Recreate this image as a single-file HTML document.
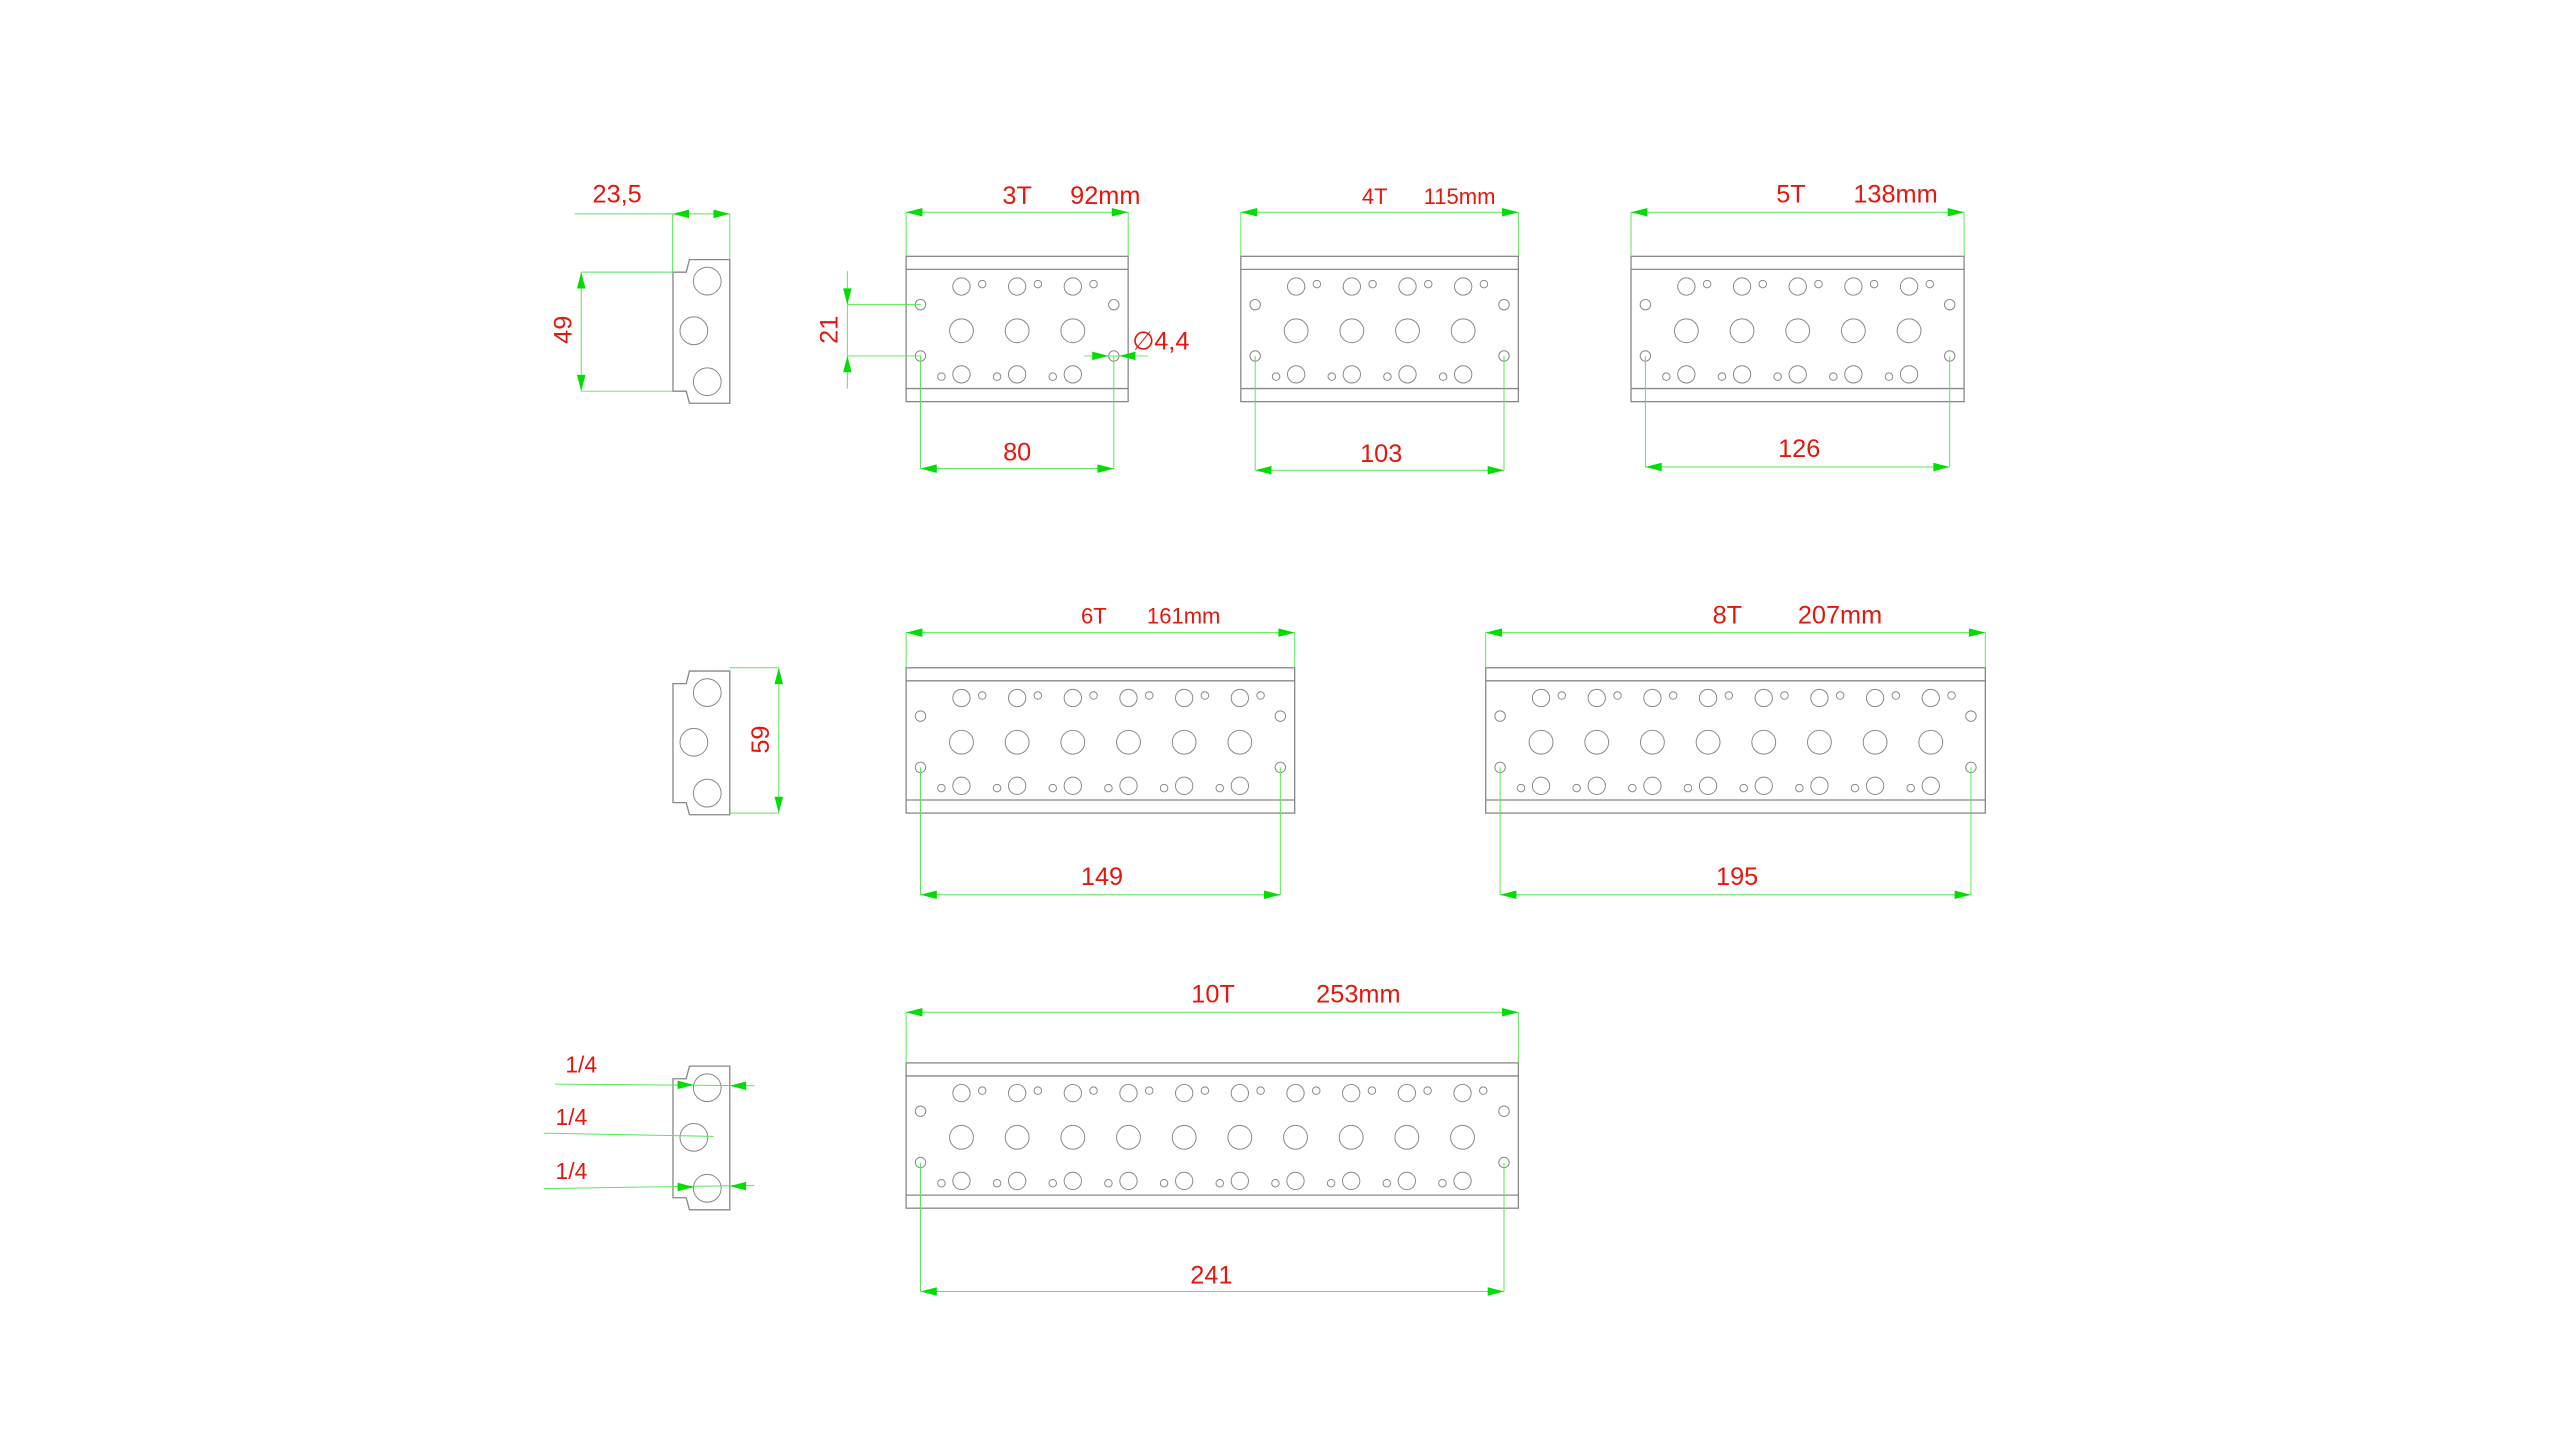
<!DOCTYPE html>
<html><head><meta charset="utf-8"><style>
html,body{margin:0;padding:0;background:#fff;}
svg{display:block;}
text{font-family:"Liberation Sans",Arial,sans-serif;fill:#e3170d;}
</style></head><body>
<svg id="s" xmlns="http://www.w3.org/2000/svg" width="2560" height="1442" viewBox="0 0 1568 883.2" preserveAspectRatio="none">
<rect width="1568" height="883.2" fill="#fff"/>
<g id="g"></g>
<!-- labels -->
<g font-size="15.5">
<text x="378" y="124" text-anchor="middle">23,5</text>
<text x="623" y="125" text-anchor="middle">3T</text>
<text x="677" y="125" text-anchor="middle">92mm</text>
<text x="842" y="125" text-anchor="middle" font-size="13.5">4T</text>
<text x="894" y="125" text-anchor="middle" font-size="13.5">115mm</text>
<text x="1097" y="124" text-anchor="middle">5T</text>
<text x="1161" y="124" text-anchor="middle">138mm</text>
<text x="711" y="214" text-anchor="middle">∅4,4</text>
<text x="623" y="282" text-anchor="middle">80</text>
<text x="846" y="283" text-anchor="middle">103</text>
<text x="1102" y="280" text-anchor="middle">126</text>
<text x="670" y="382" text-anchor="middle" font-size="13.5">6T</text>
<text x="725" y="382" text-anchor="middle" font-size="13.5">161mm</text>
<text x="1058" y="382" text-anchor="middle">8T</text>
<text x="1127" y="382" text-anchor="middle">207mm</text>
<text x="675" y="542" text-anchor="middle">149</text>
<text x="1064" y="542" text-anchor="middle">195</text>
<text x="743" y="614" text-anchor="middle">10T</text>
<text x="832" y="614" text-anchor="middle">253mm</text>
<text x="742" y="786" text-anchor="middle">241</text>
<text x="356" y="657" text-anchor="middle" font-size="14">1/4</text>
<text x="350" y="689" text-anchor="middle" font-size="14">1/4</text>
<text x="350" y="722" text-anchor="middle" font-size="14">1/4</text>
<text transform="translate(350,202) rotate(-90)" text-anchor="middle">49</text>
<text transform="translate(513,202) rotate(-90)" text-anchor="middle">21</text>
<text transform="translate(471,453) rotate(-90)" text-anchor="middle">59</text>
</g>
</svg>
<script>
var g=document.getElementById('g'),NS='http://www.w3.org/2000/svg';
function el(t,a){var e=document.createElementNS(NS,t);for(var k in a)e.setAttribute(k,a[k]);g.appendChild(e);return e;}
var GR='#888',GN='#55e855',GA='#00dd00';
function ln(x1,y1,x2,y2,c,w){el('line',{x1:x1,y1:y1,x2:x2,y2:y2,stroke:c||GN,'stroke-width':w||0.6});}
function ci(x,y,r){el('circle',{cx:x,cy:y,r:r,fill:'none',stroke:GR,'stroke-width':0.6});}
// arrow tip at (x,y), pointing direction dx,dy
function ar(x,y,dx,dy){var L=10,H=2.6;var bx=x-dx*L,by=y-dy*L;var px=-dy*H,py=dx*H;
el('polygon',{points:x+','+y+' '+(bx+px)+','+(by+py)+' '+(bx-px)+','+(by-py),fill:GA});}
function hdim(x1,x2,y){ln(x1,y,x2,y);ar(x1,y,-1,0);ar(x2,y,1,0);}
function plate(x0,y0,W,n){
 el('rect',{x:x0,y:y0,width:W,height:89,fill:'none',stroke:GR,'stroke-width':0.8});
 ln(x0,y0+8,x0+W,y0+8,GR,0.8);ln(x0,y0+81,x0+W,y0+81,GR,0.8);
 ci(x0+8.8,y0+29.6,3.2);ci(x0+8.8,y0+61,3.2);ci(x0+W-8.8,y0+29.6,3.2);ci(x0+W-8.8,y0+61,3.2);
 for(var i=0;i<n;i++){var cx=x0+33.9+34.1*i;
  ci(cx,y0+18.5,5.3);ci(cx+12.7,y0+17,2.3);
  ci(cx,y0+45.6,7.3);
  ci(cx,y0+72.3,5.3);ci(cx-12.3,y0+73.7,2.3);}
 // top dimension
 var ty=y0-(y0==157?27:(y0==409?21.5:31));
 ln(x0,ty,x0,y0);ln(x0+W,ty,x0+W,y0);hdim(x0,x0+W,ty);
}
function side(y0){
 var p=[[422.3,y0+2],[447,y0+2],[447,y0+90],[422.3,y0+90],[420.3,y0+82.6],[412.2,y0+82.6],[412.2,y0+9.7],[420.3,y0+9.7]];
 el('polygon',{points:p.map(function(a){return a.join(',')}).join(' '),fill:'none',stroke:GR,'stroke-width':0.8});
 ci(433.2,y0+15.2,8.5);ci(425,y0+45.6,8.5);ci(433.2,y0+76.8,8.5);
}
plate(555,157,136,3);plate(760,157,170,4);plate(999,157,204,5);
plate(555,409,238,6);plate(910,409,306,8);plate(555,651,375,10);
// bottom dims
function bd(x1,x2,yh,y){ln(x1,yh,x1,y);ln(x2,yh,x2,y);hdim(x1,x2,y);}
bd(563.8,682.2,218,287);bd(768.8,921.2,218,288);bd(1007.8,1194.2,218,286);
bd(563.8,784.2,470,548);bd(918.8,1207.2,470,548);bd(563.8,921.2,712,791);
// side views
side(157);side(409);side(651);
// 23,5
ln(352,131,447,131);ln(412,131,412,167);ln(447,131,447,159);ar(412,131,-1,0);ar(447,131,1,0);
// 49
ln(356,166.7,412,166.7);ln(356,239.6,412,239.6);ln(356,166.7,356,239.6);ar(356,166.7,0,-1);ar(356,239.6,0,1);
// 21
ln(519,166,519,238);ln(519,186.6,564,186.6);ln(519,218,564,218);ar(519,186.6,0,1);ar(519,218,0,-1);
// 4,4
ln(664,218,703,218);ar(679,218,1,0);ar(685.5,218,-1,0);
// 59
ln(447,409,477,409);ln(447,498,477,498);ln(477,409,477,498);ar(477,409,0,-1);ar(477,498,0,1);
// 1/4 leaders
ln(340,664,462,665);ar(425,664.5,1,0);ar(447,665,-1,0);
ln(333,694,437,696);
ln(333,728,462,726);ar(425,727,1,0);ar(447,726.5,-1,0);
</script>
</body></html>
